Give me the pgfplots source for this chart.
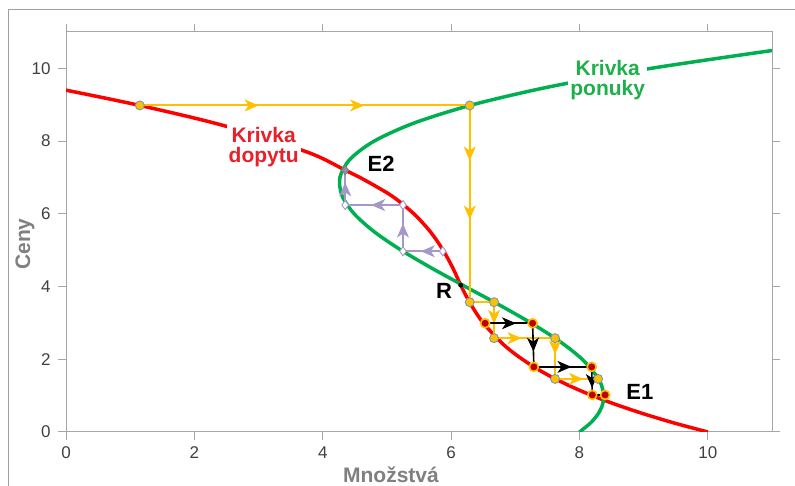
\documentclass[border=0pt]{standalone}
\usepackage{fontspec}
\setmainfont{Liberation Sans}
\usepackage{pgfplots}
\pgfplotsset{compat=1.18}
\usetikzlibrary{arrows.meta,decorations.markings}
\definecolor{dred}{HTML}{FF0000}
\definecolor{lred}{HTML}{E8202A}
\definecolor{sgreen}{HTML}{00B050}
\definecolor{lgreen}{HTML}{1DB04B}
\definecolor{gold}{HTML}{FFC000}
\definecolor{lilac}{HTML}{A398C8}
\definecolor{axgray}{HTML}{A6A6A6}
\definecolor{labgray}{HTML}{808080}
\definecolor{darkred}{HTML}{C00000}
\definecolor{ptborder}{HTML}{7A96B4}
\tikzset{
 arr/.style={postaction={decorate},decoration={markings,mark=at position #1 with {\arrow[line width=1pt]{Stealth[length=14pt,width=12pt,inset=4pt]}}}},
 arrtwo/.style 2 args={postaction={decorate},decoration={markings,mark=at position #1 with {\arrow[line width=1pt]{Stealth[length=14pt,width=12pt,inset=4pt]}},mark=at position #2 with {\arrow[line width=1pt]{Stealth[length=14pt,width=12pt,inset=4pt]}}}},
}
\begin{document}
\begin{tikzpicture}
\useasboundingbox (0pt,0pt) rectangle (795pt,486pt);
\draw[gray!75, line width=1.3pt] (8.5pt,-20pt) rectangle (830pt,476.5pt);
\begin{axis}[at={(66pt,54pt)}, anchor=south west, scale only axis,
  width=706pt, height=400pt,
  xmin=0, xmax=11, ymin=0, ymax=11,
  xtick={0,2,...,10}, ytick={0,2,...,10},
  tick align=outside, major tick length=8pt,
  axis line style={axgray, line width=1pt},
  tick style={axgray, line width=1pt},
  ticklabel style={font=\fontsize{17}{17}\selectfont, text=black!75},
  /pgf/number format/assume math mode=true,
  xticklabel style={yshift=-3pt},
  yticklabel style={xshift=-4pt},
]
% demand curve
\addplot[dred, line width=3.5pt, smooth] coordinates {
 (0,9.40) (1.15,8.98) (2.45,8.43) (3.77,7.69) (4.35,7.20) (4.58,7.0) (5.07,6.5)
 (5.42,6.0) (5.68,5.5) (5.875,5.0) (6.03,4.5) (6.16,4.0) (6.31,3.5) (6.50,3.0)
 (6.76,2.5) (6.919,2.25) (7.11,2.0) (7.328,1.75) (7.58,1.5) (7.871,1.25) (8.20,1.0)
 (8.577,0.75) (9.00,0.5) (9.47,0.25) (10,0)};
% supply curve
\addplot[sgreen, line width=3.5pt, smooth] coordinates {
 (8.00,0) (8.174,0.25) (8.292,0.5) (8.359,0.75) (8.377,1.0) (8.350,1.25) (8.283,1.5)
 (8.043,2.0) (7.686,2.5) (7.243,3.0) (6.745,3.5) (6.221,4.0) (5.704,4.5) (5.222,5.0)
 (4.807,5.5) (4.490,6.0) (4.300,6.5) (4.268,7.0) (4.425,7.5) (4.802,8.0) (5.429,8.5)
 (6.336,9.0) (7.554,9.5) (9.114,10.0) (11.0,10.49)};
% orange cobweb
\addplot[gold, line width=2pt, arrtwo={0.36}{0.68}] coordinates {(1.15,8.98) (6.29,8.98)};
\addplot[gold, line width=2pt, arrtwo={0.28}{0.58}] coordinates {(6.29,8.98) (6.29,3.57)};
\addplot[gold, line width=2pt] coordinates {(6.29,3.57) (6.67,3.57)};
\addplot[gold, line width=2pt, arr=0.6] coordinates {(6.67,3.57) (6.67,2.58)};
\addplot[gold, line width=2pt, arr=0.45] coordinates {(6.67,2.58) (7.62,2.58)};
\addplot[gold, line width=2pt, arr=0.4] coordinates {(7.62,2.58) (7.62,1.46)};
\addplot[gold, line width=2pt, arr=0.65] coordinates {(7.62,1.46) (8.29,1.46)};
% black cobweb
\addplot[black, line width=1.6pt, arr=0.65] coordinates {(6.53,2.99) (7.27,2.99)};
\addplot[black, line width=1.6pt, arr=0.65] coordinates {(7.27,2.99) (7.29,1.79)};
\addplot[black, line width=1.6pt, arr=0.65] coordinates {(7.29,1.79) (8.19,1.79)};
\addplot[black, line width=1.6pt, arr=0.75] coordinates {(8.19,1.79) (8.20,1.02)};
\addplot[black, line width=1.6pt] coordinates {(8.20,1.02) (8.40,1.02)};
% lilac cobweb
\addplot[lilac, line width=1.8pt, arr=0.55] coordinates {(5.87,4.97) (5.25,4.97)};
\addplot[lilac, line width=1.8pt, arr=0.6] coordinates {(5.25,4.97) (5.25,6.24)};
\addplot[lilac, line width=1.8pt, arr=0.55] coordinates {(5.25,6.24) (4.35,6.24)};
\addplot[lilac, line width=1.8pt, arr=0.65] coordinates {(4.35,6.24) (4.35,7.20)};
% markers
\addplot[only marks, mark=diamond*, mark size=4.5pt, mark options={fill=white, draw=lilac, line width=0.9pt}] coordinates {
 (4.35,6.24) (5.25,6.24) (5.25,4.97) (5.87,4.97)};
\addplot[only marks, mark=diamond*, mark size=4.5pt, mark options={fill=lilac!60!gray, draw=gray, line width=0.9pt}] coordinates {(4.35,7.20)};
\addplot[only marks, mark=*, mark size=4.5pt, mark options={fill=gold, draw=ptborder, line width=0.9pt}] coordinates {
 (1.15,8.98) (6.29,8.98) (6.29,3.57) (6.67,3.57) (6.67,2.58) (7.62,2.58) (7.62,1.46) (8.29,1.46)};
\addplot[only marks, mark=*, mark size=4.5pt, mark options={fill=darkred, draw=gold, line width=1.6pt}] coordinates {
 (6.53,2.99) (7.27,2.99) (7.29,1.79) (8.19,1.79) (8.20,1.02) (8.40,1.02)};
\addplot[only marks, mark=*, mark size=2.2pt, mark options={fill=black, draw=black}] coordinates {(6.15,4.04)};
% labels
\node[fill=white, text=lred, font=\fontsize{21}{20}\selectfont\bfseries, align=center, inner sep=2pt] at (axis cs:3.08,7.84) {Krivka\\dopytu};
\node[fill=white, text=lgreen, font=\fontsize{21}{20}\selectfont\bfseries, align=center, inner sep=2pt] at (axis cs:8.44,9.68) {Krivka\\ponuky};
\node[font=\fontsize{22}{22}\selectfont\bfseries] at (axis cs:4.91,7.37) {E2};
\node[font=\fontsize{22}{22}\selectfont\bfseries] at (axis cs:5.89,3.88) {R};
\node[font=\fontsize{22}{22}\selectfont\bfseries] at (axis cs:8.94,1.10) {E1};
\end{axis}
\node[text=labgray, font=\fontsize{21}{21}\selectfont\bfseries] at (391pt,11pt) {Množstvá};
\node[text=labgray, font=\fontsize{21}{21}\selectfont\bfseries, rotate=90] at (25pt,242pt) {Ceny};
\end{tikzpicture}
\end{document}
